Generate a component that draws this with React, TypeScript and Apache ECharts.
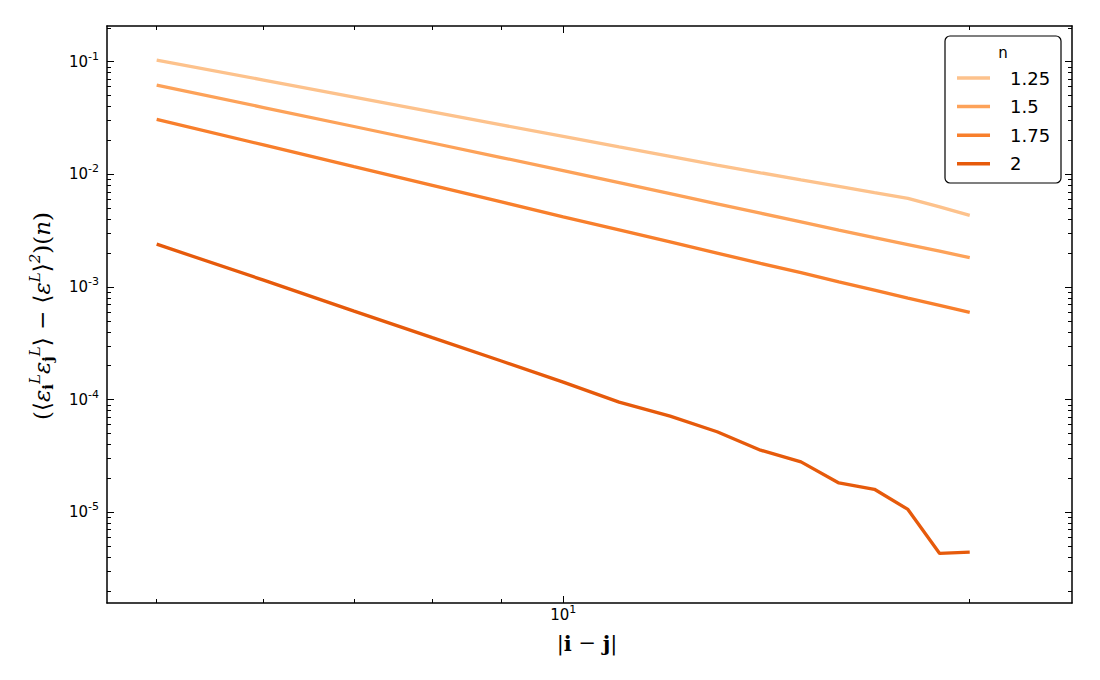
import React, { useEffect, useRef } from "react";
import * as echarts from "echarts";

// |i - j| values
const xValues = [5, 6, 7, 8, 9, 10, 11, 12, 13, 14, 15, 16, 17, 18, 19, 20];
const seriesNames = ["1.25", "1.5", "1.75", "2"];
const valuesN125 = [0.1035, 0.0687, 0.0485, 0.0358, 0.0275, 0.0217, 0.0175, 0.01445, 0.0121, 0.01033, 0.00893, 0.00781, 0.00688, 0.00612, 0.00514, 0.00433];
const valuesN150 = [0.0621, 0.0392, 0.0266, 0.01898, 0.0141, 0.01081, 0.00844, 0.00674, 0.00548, 0.00452, 0.00378, 0.0032, 0.00274, 0.00238, 0.00208, 0.00182];
const valuesN175 = [0.0308, 0.01824, 0.0117, 0.00798, 0.00569, 0.0042, 0.00321, 0.00251, 0.002, 0.00162, 0.00134, 0.00111, 0.000938, 0.000798, 0.000687, 0.000594];
const valuesN200 = [0.0024, 0.00115, 0.000611, 0.000355, 0.00022, 0.000143, 0.000095, 0.0000713, 0.0000518, 0.0000356, 0.000028, 0.0000182, 0.000016, 0.0000106, 0.00000431, 0.00000443];
const seriesValues = [valuesN125, valuesN150, valuesN175, valuesN200];
const colors = ["#fdc28c", "#fda259", "#f87f2c", "#e65a0b"];

// axis ticks
const xMajorTicks = [10];
const xMinorTicks = [5, 6, 7, 8, 9, 20];
const yMajorTicks = [1e-5, 1e-4, 1e-3, 1e-2, 1e-1];
const yDecades = [-6, -5, -4, -3, -2, -1];
const yMinorMultipliers = [2, 3, 4, 5, 6, 7, 8, 9];
const yMinorTicks: number[] = [];
yDecades.forEach((e) => yMinorMultipliers.forEach((k) => yMinorTicks.push(Number((k * Math.pow(10, e)).toPrecision(3)))));

const xMin = 4.594;
const xMax = 23.81;
const yMin = 1.565e-6;
const yMax = 0.2075;

const tickLabelRich = {
  b: { fontSize: 15, fontFamily: "DejaVu Sans", color: "#000", lineHeight: 15 },
  sup: { fontSize: 11, fontFamily: "DejaVu Sans", color: "#000", lineHeight: 11, padding: [0, 0, 11, 0] },
};
const expFormatter = (v: number) => {
  const e = Math.round(Math.log10(v));
  return `{b|10}{sup|${e}}`;
};

function makeAxis(dim: "x" | "y", position: string, ticks: number[], len: number, showLine: boolean, labels: number[] | null) {
  const min = dim === "x" ? xMin : yMin;
  const max = dim === "x" ? xMax : yMax;
  return {
    type: "log",
    logBase: 10,
    gridIndex: 0,
    position,
    min,
    max,
    splitLine: { show: false },
    axisLine: { show: showLine, onZero: false, lineStyle: { color: "#000", width: 1.5 } },
    axisTick: { show: true, inside: true, length: len, customValues: ticks, lineStyle: { color: "#000", width: 1 } },
    axisLabel: labels
      ? {
          show: true,
          customValues: labels,
          margin: dim === "x" ? 4 : 8,
          formatter: expFormatter,
          rich: tickLabelRich,
        }
      : { show: false },
  };
}

const yNameText =
  "{t|(⟨}{v|ε}{sb|i}{sp|L}{v|ε}{sb|j}{sp|L}{t|⟩ − ⟨}{v|ε}{sp|L}{t|⟩}{sp|2}{t|)(}{v|n}{t|)}";
const yNameRich = {
  t: { fontSize: 23, fontFamily: "DejaVu Serif", fill: "#000", lineHeight: 32 },
  v: { fontSize: 23, fontFamily: "DejaVu Serif", fontStyle: "italic", fill: "#000", lineHeight: 32 },
  sp: { fontSize: 15, fontFamily: "DejaVu Serif", fontStyle: "italic", fill: "#000", lineHeight: 15, padding: [0, 0, 14, 0] },
  sb: { fontSize: 15, fontFamily: "DejaVu Serif", fontWeight: "bold", fill: "#000", lineHeight: 15, padding: [11, 0, 0, 0] },
};
const xNameRich = {
  t: { fontSize: 21, fontFamily: "DejaVu Serif", fill: "#000", lineHeight: 28 },
  bd: { fontSize: 21, fontFamily: "DejaVu Serif", fontWeight: "bold", fill: "#000", lineHeight: 28 },
};
const xNameText = "{t||}{bd|i}{t| − }{bd|j}{t||}";

export default function App() {
  const ref = useRef<HTMLDivElement>(null);
  useEffect(() => {
    document.body.style.margin = "0";
    const chart = echarts.init(ref.current!, undefined, { renderer: "svg" });
    const option = {
      animation: false,
      backgroundColor: "#fff",
      grid: { left: 107, top: 26, right: 28, bottom: 77, containLabel: false },
      xAxis: [
        makeAxis("x", "bottom", xMajorTicks, 7, true, xMajorTicks),
        makeAxis("x", "bottom", xMinorTicks, 4, false, null),
        makeAxis("x", "top", xMajorTicks, 7, true, null),
        makeAxis("x", "top", xMinorTicks, 4, false, null),
      ],
      yAxis: [
        makeAxis("y", "left", yMajorTicks, 7, true, yMajorTicks),
        makeAxis("y", "left", yMinorTicks, 4, false, null),
        makeAxis("y", "right", yMajorTicks, 7, true, null),
        makeAxis("y", "right", yMinorTicks, 4, false, null),
      ],
      legend: {
        data: seriesNames,
        orient: "vertical",
        left: 957,
        top: 68,
        padding: 0,
        itemWidth: 33,
        itemHeight: 3.5,
        itemGap: 8.6,
        icon: "rect",
        selectedMode: false,
        textStyle: { fontSize: 18, fontFamily: "DejaVu Sans", color: "#000", lineHeight: 20, padding: [0, 0, 0, 15] },
      },
      graphic: [
        {
          type: "rect",
          z: 3,
          shape: { x: 945, y: 36, width: 116, height: 147, r: 5 },
          style: { fill: "#fff", stroke: "#000", lineWidth: 1.2 },
        },
        {
          type: "text",
          z: 5,
          x: 1003,
          y: 53,
          style: { text: "n", fontSize: 15, fontFamily: "DejaVu Sans", fill: "#000", align: "center", verticalAlign: "middle" },
        },
        {
          type: "text",
          z: 5,
          x: 587,
          y: 643,
          style: { text: xNameText, rich: xNameRich, align: "center", verticalAlign: "middle" },
        },
        {
          type: "text",
          z: 5,
          x: 42,
          y: 316,
          rotation: Math.PI / 2,
          style: { text: yNameText, rich: yNameRich, align: "center", verticalAlign: "middle" },
        },
      ],
      series: seriesNames.map((name, i) => ({
        name,
        type: "line",
        xAxisIndex: 0,
        yAxisIndex: 0,
        data: xValues.map((x, j) => [x, seriesValues[i][j]]),
        symbol: "none",
        silent: true,
        lineStyle: { width: 3.3, color: colors[i] },
        itemStyle: { color: colors[i] },
      })),
    };
    chart.setOption(option as any);
    return () => chart.dispose();
  }, []);
  return <div ref={ref} style={{ width: 1100, height: 680 }} />;
}
